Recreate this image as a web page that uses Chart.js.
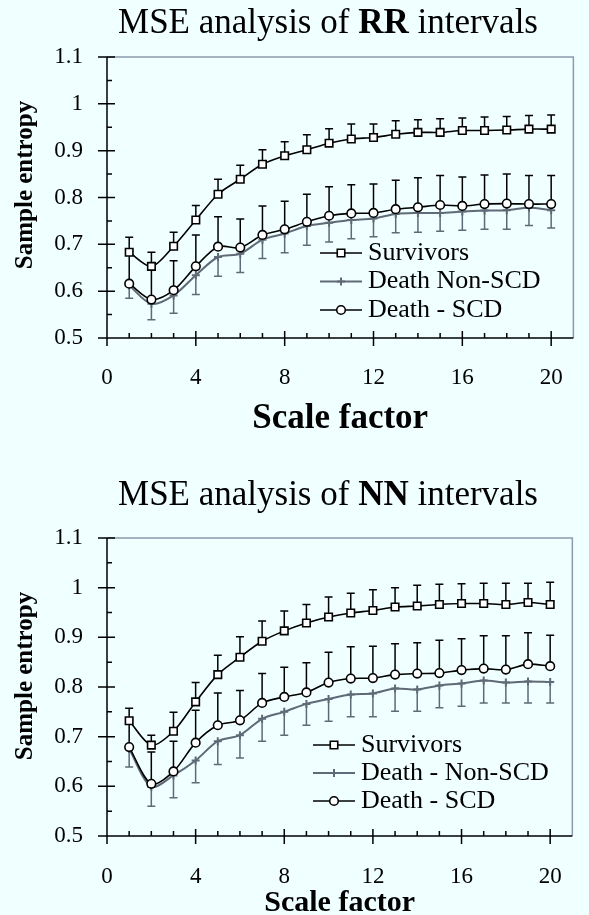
<!DOCTYPE html>
<html>
<head>
<meta charset="utf-8">
<script src="https://cdn.jsdelivr.net/npm/chart.js@4.4.1/dist/chart.umd.min.js"></script>
<style>
  body { margin: 0; width: 589px; height: 915px; background: #f0ffff; position: relative; overflow: hidden; }
  .box { position: absolute; left: 0; width: 589px; }
  .title { position: absolute; left: 328px; transform: translateX(-50%); white-space: nowrap;
           font-family: 'Liberation Serif', 'Times New Roman', serif; font-size: 35px; line-height: 1; color: #000; z-index: 2; }
</style>
</head>
<body>
<div class="box" style="top:0;height:450px"><canvas id="rrChart"></canvas></div>
<div class="box" style="top:450px;height:465px"><canvas id="nnChart"></canvas></div>
<div class="title" style="top:4px">MSE analysis of <b>RR</b> intervals</div>
<div class="title" style="top:476px">MSE analysis of <b>NN</b> intervals</div>
<script>
const SERIF = "'Liberation Serif', 'Times New Roman', serif";
const GRAY = '#5f6a76';
const FRAME_GRAY = '#8d9bb0';

const scaleFactors = [1, 2, 3, 4, 5, 6, 7, 8, 9, 10, 11, 12, 13, 14, 15, 16, 17, 18, 19, 20];
const xTicks = [0, 4, 8, 12, 16, 20];
const yTicks = [0.5, 0.6, 0.7, 0.8, 0.9, 1.0, 1.1];

// RR intervals
const rrNames = ['Survivors', 'Death Non-SCD', 'Death - SCD'];
const rrSurv = [0.683, 0.653, 0.696, 0.752, 0.807, 0.839, 0.871, 0.889, 0.902, 0.916, 0.925, 0.928, 0.935, 0.939, 0.939, 0.943, 0.943, 0.944, 0.946, 0.946];
const rrSurvErr = [0.032, 0.030, 0.030, 0.031, 0.032, 0.030, 0.031, 0.030, 0.032, 0.031, 0.032, 0.029, 0.029, 0.027, 0.029, 0.027, 0.029, 0.029, 0.029, 0.030];
const rrNon = [0.612, 0.573, 0.591, 0.634, 0.673, 0.680, 0.710, 0.723, 0.739, 0.746, 0.752, 0.755, 0.765, 0.767, 0.767, 0.770, 0.772, 0.773, 0.778, 0.773];
const rrNonErr = [0.027, 0.034, 0.038, 0.041, 0.041, 0.040, 0.040, 0.041, 0.041, 0.041, 0.040, 0.039, 0.040, 0.041, 0.039, 0.040, 0.040, 0.041, 0.038, 0.038];
const rrScd = [0.616, 0.582, 0.602, 0.653, 0.695, 0.693, 0.720, 0.732, 0.748, 0.761, 0.766, 0.767, 0.775, 0.779, 0.784, 0.782, 0.786, 0.787, 0.786, 0.786];
const rrScdErr = [0.070, 0.075, 0.063, 0.067, 0.064, 0.061, 0.062, 0.060, 0.059, 0.062, 0.061, 0.062, 0.062, 0.063, 0.063, 0.062, 0.062, 0.063, 0.061, 0.061];

// NN intervals
const nnNames = ['Survivors', 'Death - Non-SCD', 'Death - SCD'];
const nnSurv = [0.732, 0.683, 0.711, 0.770, 0.825, 0.860, 0.892, 0.913, 0.929, 0.941, 0.949, 0.954, 0.961, 0.963, 0.966, 0.968, 0.968, 0.966, 0.970, 0.966];
const nnSurvErr = [0.025, 0.020, 0.038, 0.039, 0.039, 0.041, 0.041, 0.040, 0.037, 0.040, 0.040, 0.042, 0.039, 0.042, 0.041, 0.040, 0.041, 0.043, 0.039, 0.045];
const nnNon = [0.675, 0.599, 0.622, 0.652, 0.691, 0.703, 0.736, 0.750, 0.766, 0.776, 0.785, 0.787, 0.797, 0.795, 0.803, 0.807, 0.813, 0.809, 0.811, 0.810];
const nnNonErr = [0.036, 0.039, 0.045, 0.045, 0.047, 0.046, 0.045, 0.047, 0.043, 0.045, 0.045, 0.047, 0.046, 0.044, 0.045, 0.046, 0.045, 0.041, 0.043, 0.042];
const nnScd = [0.679, 0.605, 0.630, 0.688, 0.723, 0.733, 0.768, 0.780, 0.789, 0.809, 0.817, 0.818, 0.825, 0.827, 0.828, 0.834, 0.837, 0.835, 0.846, 0.842];
const nnScdErr = [0.055, 0.064, 0.061, 0.065, 0.065, 0.060, 0.059, 0.060, 0.060, 0.061, 0.064, 0.064, 0.062, 0.062, 0.066, 0.063, 0.066, 0.068, 0.063, 0.062];

const styles = [
    { color: '#000', pointStyle: 'rect', radius: 5.3, fill: '#fff', width: 1.6, dir: 1, order: 0 },
    { color: GRAY, pointStyle: 'cross', radius: 4, fill: GRAY, width: 2, dir: -1, order: 2 },
    { color: '#000', pointStyle: 'circle', radius: 4.3, fill: '#fff', width: 1.6, dir: 1, order: 1 }
];

function toPoints(values) {
    return scaleFactors.map((x, i) => ({ x: x, y: values[i] }));
}

function drawMarker(ctx, st, x, y) {
    ctx.save();
    ctx.strokeStyle = st.color;
    ctx.fillStyle = st.fill;
    ctx.lineWidth = st.width;
    ctx.beginPath();
    if (st.pointStyle === 'rect') {
        const h = st.radius * Math.SQRT1_2;
        ctx.rect(x - h, y - h, 2 * h, 2 * h);
        ctx.fill();
        ctx.stroke();
    } else if (st.pointStyle === 'circle') {
        ctx.arc(x, y, st.radius, 0, Math.PI * 2);
        ctx.fill();
        ctx.stroke();
    } else {
        ctx.moveTo(x - st.radius, y); ctx.lineTo(x + st.radius, y);
        ctx.moveTo(x, y - st.radius); ctx.lineTo(x, y + st.radius);
        ctx.stroke();
    }
    ctx.restore();
}

function framePlugin(errors, names, legend, yTitle) {
    return {
        id: 'frame',
        beforeDatasetsDraw(chart) {
            const ctx = chart.ctx;
            const { left, right, top, bottom } = chart.chartArea;
            const xs = chart.scales.x, ys = chart.scales.y;
            ctx.save();
            // gray top / right border
            ctx.strokeStyle = FRAME_GRAY;
            ctx.lineWidth = 1.5;
            ctx.beginPath();
            ctx.moveTo(left, top); ctx.lineTo(right, top); ctx.lineTo(right, bottom);
            ctx.stroke();
            // error bars
            errors.forEach((err, i) => {
                const st = styles[i];
                const pts = chart.data.datasets[i].data;
                ctx.strokeStyle = st.color;
                ctx.lineWidth = 1.5;
                pts.forEach((p, j) => {
                    const px = xs.getPixelForValue(p.x);
                    const y0 = ys.getPixelForValue(p.y);
                    const y1 = ys.getPixelForValue(p.y + st.dir * err[j]);
                    ctx.beginPath();
                    ctx.moveTo(px, y0); ctx.lineTo(px, y1);
                    ctx.moveTo(px - 4, y1); ctx.lineTo(px + 4, y1);
                    ctx.stroke();
                });
            });
            ctx.restore();
        },
        afterDraw(chart) {
            const ctx = chart.ctx;
            const { left, right, top, bottom } = chart.chartArea;
            const xs = chart.scales.x, ys = chart.scales.y;
            ctx.save();
            ctx.strokeStyle = '#000';
            ctx.lineWidth = 1.5;
            ctx.beginPath();
            ctx.moveTo(left, top); ctx.lineTo(left, bottom); ctx.lineTo(right, bottom);
            // x ticks
            for (let v = 0; v <= 20; v++) {
                const px = xs.getPixelForValue(v);
                if (v % 4 === 0) { ctx.moveTo(px, bottom - 7); ctx.lineTo(px, bottom + 8); }
                else { ctx.moveTo(px, bottom - 5); ctx.lineTo(px, bottom); }
            }
            // y ticks
            for (let k = 0; k <= 12; k++) {
                const py = ys.getPixelForValue(0.5 + k * 0.05);
                if (k % 2 === 0) { ctx.moveTo(left - 9, py); ctx.lineTo(left + 8, py); }
                else { ctx.moveTo(left, py); ctx.lineTo(left + 5, py); }
            }
            ctx.stroke();

            // legend
            ctx.font = '26px ' + SERIF;
            ctx.textBaseline = 'middle';
            ctx.fillStyle = '#000';
            names.forEach((name, i) => {
                const st = styles[i];
                const y = legend.y + i * legend.gap;
                ctx.strokeStyle = st.color;
                ctx.lineWidth = st.width;
                ctx.beginPath();
                ctx.moveTo(legend.x, y); ctx.lineTo(legend.x + 42, y);
                ctx.stroke();
                drawMarker(ctx, st, legend.x + 21, y);
                ctx.fillStyle = '#000';
                ctx.fillText(name, legend.x + 48, y);
            });

            // y axis title
            ctx.translate(yTitle.x, yTitle.y);
            ctx.rotate(-Math.PI / 2);
            ctx.font = 'bold 25px ' + SERIF;
            ctx.textAlign = 'center';
            ctx.fillText('Sample entropy', 0, 0);
            ctx.restore();
        }
    };
}

function makeChart(id, series, errors, names, opts) {
    const ctx = document.getElementById(id).getContext('2d');
    return new Chart(ctx, {
        type: 'line',
        data: {
            datasets: series.map((vals, i) => ({
                label: names[i],
                data: toPoints(vals),
                borderColor: styles[i].color,
                backgroundColor: styles[i].fill,
                borderWidth: styles[i].width,
                pointStyle: styles[i].pointStyle,
                pointRadius: styles[i].radius,
                pointBorderWidth: styles[i].width,
                pointBackgroundColor: styles[i].fill,
                pointBorderColor: styles[i].color,
                tension: 0.3,
                fill: false,
                order: styles[i].order
            }))
        },
        options: {
            responsive: true,
            maintainAspectRatio: false,
            animation: false,
            layout: { padding: { top: opts.padTop, right: 4, left: 0, bottom: 0 } },
            plugins: {
                legend: { display: false },
                tooltip: { enabled: false }
            },
            scales: {
                x: {
                    type: 'linear',
                    min: 0,
                    max: 21,
                    grid: { display: false, drawTicks: false },
                    border: { display: false },
                    afterBuildTicks: s => { s.ticks = xTicks.map(v => ({ value: v })); },
                    afterFit: s => { s.height = opts.xHeight; },
                    ticks: {
                        color: '#000',
                        padding: opts.xTickPad,
                        maxRotation: 0,
                        font: { family: SERIF, size: 23 }
                    },
                    title: {
                        display: true,
                        text: 'Scale factor',
                        color: '#000',
                        font: { family: SERIF, size: opts.xTitleSize, weight: 'bold', lineHeight: 1 },
                        padding: { top: 0, bottom: opts.xTitlePad }
                    }
                },
                y: {
                    min: 0.5,
                    max: 1.1,
                    grid: { display: false, drawTicks: false },
                    border: { display: false },
                    afterBuildTicks: s => { s.ticks = yTicks.map(v => ({ value: v })); },
                    afterFit: s => { s.width = 107; },
                    ticks: {
                        color: '#000',
                        padding: 24,
                        font: { family: SERIF, size: 23 },
                        callback: v => String(parseFloat(v.toFixed(2)))
                    }
                }
            }
        },
        plugins: [framePlugin(errors, names, opts.legend, opts.yTitle)]
    });
}

makeChart('rrChart', [rrSurv, rrNon, rrScd], [rrSurvErr, rrNonErr, rrScdErr], rrNames, {
    padTop: 57, xHeight: 112, xTickPad: 26, xTitleSize: 35, xTitlePad: 14,
    legend: { x: 320, y: 253, gap: 28.5 },
    yTitle: { x: 26, y: 185 }
});

makeChart('nnChart', [nnSurv, nnNon, nnScd], [nnSurvErr, nnNonErr, nnScdErr], nnNames, {
    padTop: 88, xHeight: 79, xTickPad: 27, xTitleSize: 30, xTitlePad: -3,
    legend: { x: 313, y: 295, gap: 28 },
    yTitle: { x: 26, y: 226 }
});
</script>
</body>
</html>
